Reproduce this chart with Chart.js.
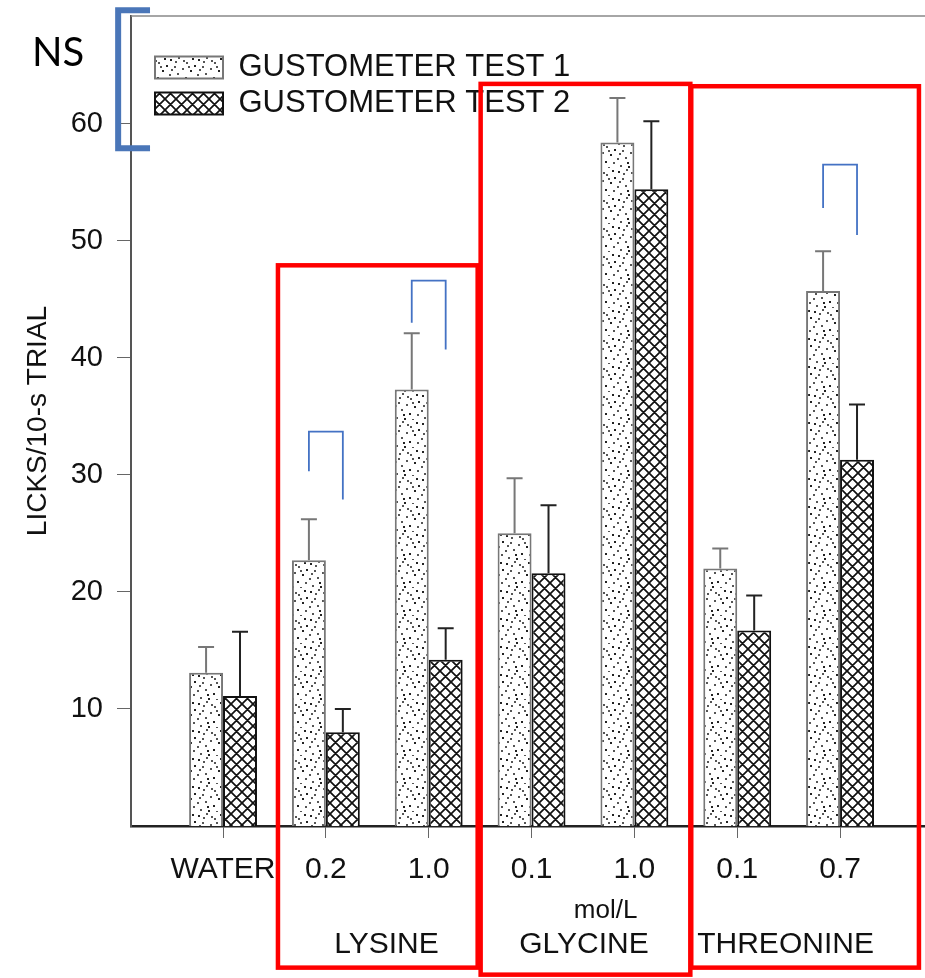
<!DOCTYPE html>
<html lang="en">
<head>
    <meta charset="UTF-8">
    <title>Licks per 10-s trial, gustometer tests 1 and 2</title>
    <script src="https://cdn.jsdelivr.net/npm/chart.js"></script>
    <style>
        html, body { margin: 0; padding: 0; background: #fff; }
        #wrap { width: 925px; height: 978px; }
    </style>
</head>
<body>
<div id="wrap"><canvas id="licksChart"></canvas></div>

<script>
    // values
    var categories = ['WATER', '0.2', '1.0', '0.1', '1.0', '0.1', '0.7'];
    var seriesNames = ['GUSTOMETER TEST 1', 'GUSTOMETER TEST 2'];
    var test1 = [13.1, 22.7, 37.3, 25.0, 58.4, 22.0, 45.7];
    var test1Err = [2.2, 3.5, 4.8, 4.7, 3.8, 1.7, 3.4];
    var test2 = [11.1, 8.0, 14.2, 21.6, 54.4, 16.7, 31.3];
    var test2Err = [5.5, 2.0, 2.7, 5.8, 5.8, 3.0, 4.7];
    var yTicks = [10, 20, 30, 40, 50, 60];
    var groups = ['LYSINE', 'GLYCINE', 'THREONINE'];
    var unitLabel = 'mol/L';

    var FONT = "'Liberation Sans', Arial, sans-serif";

    // stippled fill for test 1
    function stipple() {
        var c = document.createElement('canvas');
        c.width = 28; c.height = 28;
        var g = c.getContext('2d');
        g.fillStyle = '#fff';
        g.fillRect(0, 0, 28, 28);
        var dots = [[2, 3], [10, 1], [18, 6], [24, 2], [6, 10], [14, 12], [22, 14], [1, 18],
                    [9, 17], [17, 21], [25, 22], [4, 25], [12, 26], [20, 27], [15, 4], [26, 9],
                    [7, 5], [20, 10], [11, 22], [3, 13]];
        dots.forEach(function (d, i) {
            g.fillStyle = i % 3 === 0 ? '#222' : '#555';
            g.fillRect(d[0], d[1], 2, 2);
        });
        return g.createPattern(c, 'repeat');
    }

    // cross hatch fill for test 2
    function crosshatch() {
        var s = 11;
        var c = document.createElement('canvas');
        c.width = s; c.height = s;
        var g = c.getContext('2d');
        g.fillStyle = '#fff';
        g.fillRect(0, 0, s, s);
        g.strokeStyle = '#111';
        g.lineWidth = 1.7;
        g.beginPath();
        for (var k = -1; k <= 1; k++) {
            g.moveTo(k * s - 2, -2); g.lineTo(k * s + s + 2, s + 2);
            g.moveTo(k * s + s + 2, -2); g.lineTo(k * s - 2, s + 2);
        }
        g.stroke();
        return g.createPattern(c, 'repeat');
    }

    // legend drawn inside the plot, without taking layout space
    var legendInside = {
        id: 'legendInside',
        beforeInit: function (chart) {
            var lg = chart.legend, fit = lg.fit;
            lg.fit = function () { fit.call(this); this.height = 0; };
        },
        afterLayout: function (chart) {
            var lg = chart.legend;
            lg.left = 150; lg.right = 600;
            lg.top = 47; lg.bottom = 120;
        }
    };

    // upper error bars
    var errorBars = {
        id: 'errorBars',
        afterDatasetsDraw: function (chart) {
            var ctx = chart.ctx, y = chart.scales.y;
            var vals = [test1, test2], errs = [test1Err, test2Err], cols = ['#777', '#222'];
            ctx.save();
            chart.data.datasets.forEach(function (ds, di) {
                chart.getDatasetMeta(di).data.forEach(function (bar, i) {
                    var top = y.getPixelForValue(vals[di][i] + errs[di][i]);
                    ctx.strokeStyle = cols[di];
                    ctx.lineWidth = 2;
                    ctx.beginPath();
                    ctx.moveTo(bar.x, bar.y);
                    ctx.lineTo(bar.x, top);
                    ctx.moveTo(bar.x - 8, top);
                    ctx.lineTo(bar.x + 8, top);
                    ctx.stroke();
                });
            });
            ctx.restore();
        }
    };

    // frame top, group names and the added markings (boxes, brackets, NS)
    var notes = {
        id: 'notes',
        afterDraw: function (chart) {
            var ctx = chart.ctx, x = chart.scales.x, y = chart.scales.y, a = chart.chartArea;
            ctx.save();

            // top frame line
            ctx.strokeStyle = '#888';
            ctx.lineWidth = 1.5;
            ctx.beginPath();
            ctx.moveTo(a.left, a.top);
            ctx.lineTo(a.right, a.top);
            ctx.stroke();

            // unit and group names under the axis
            ctx.fillStyle = '#111';
            ctx.textAlign = 'center';
            ctx.textBaseline = 'middle';
            ctx.font = '26px ' + FONT;
            ctx.fillText(unitLabel, x.getPixelForValue(3.72), 911);
            ctx.font = '30px ' + FONT;
            var groupAt = [1.59, 3.51, 5.47];
            groups.forEach(function (g, i) {
                ctx.fillText(g, x.getPixelForValue(groupAt[i]), 945);
            });

            // significance brackets (blue)
            var t1 = chart.getDatasetMeta(0).data, t2 = chart.getDatasetMeta(1).data;
            var brackets = [
                { cat: 1, left: 30.3, top: 33.7, right: 27.9 },
                { cat: 2, left: 43.0, top: 46.6, right: 40.7 },
                { cat: 6, left: 52.8, top: 56.5, right: 50.5 }
            ];
            ctx.strokeStyle = '#4472c4';
            ctx.lineWidth = 1.8;
            brackets.forEach(function (b) {
                var xl = t1[b.cat].x, xr = t2[b.cat].x;
                ctx.beginPath();
                ctx.moveTo(xl, y.getPixelForValue(b.left));
                ctx.lineTo(xl, y.getPixelForValue(b.top));
                ctx.lineTo(xr, y.getPixelForValue(b.top));
                ctx.lineTo(xr, y.getPixelForValue(b.right));
                ctx.stroke();
            });

            // NS bracket at the top left
            ctx.strokeStyle = '#4a76b8';
            ctx.lineWidth = 6;
            ctx.beginPath();
            ctx.moveTo(x.getPixelForValue(-0.71), y.getPixelForValue(69.7));
            ctx.lineTo(x.getPixelForValue(-1.02), y.getPixelForValue(69.7));
            ctx.lineTo(x.getPixelForValue(-1.02), y.getPixelForValue(57.9));
            ctx.lineTo(x.getPixelForValue(-0.71), y.getPixelForValue(57.9));
            ctx.stroke();
            ctx.fillStyle = '#000';
            ctx.textAlign = 'left';
            ctx.textBaseline = 'alphabetic';
            ctx.font = "40px Lato, 'Open Sans', sans-serif";
            ctx.fillText('NS', 32, 66);

            // red boxes around the amino acid groups
            var boxes = [
                { from: 0.534, to: 2.476, top: 47.9, bottom: -12.1 },
                { from: 2.505, to: 4.544, top: 63.4, bottom: -12.7 },
                { from: 4.553, to: 6.767, top: 63.2, bottom: -12.1 }
            ];
            ctx.strokeStyle = '#ff0000';
            ctx.lineWidth = 4.5;
            boxes.forEach(function (b) {
                var l = x.getPixelForValue(b.from), r = x.getPixelForValue(b.to);
                var t = y.getPixelForValue(b.top), btm = y.getPixelForValue(b.bottom);
                ctx.strokeRect(l, t, r - l, btm - t);
            });
            ctx.restore();
        }
    };

    var ctx = document.getElementById('licksChart').getContext('2d');

    var licksChart = new Chart(ctx, {
        type: 'bar',
        data: {
            datasets: [{
                label: seriesNames[0],
                data: test1.map(function (v, i) { return { x: i, y: v }; }),
                backgroundColor: stipple(),
                borderColor: '#777',
                borderWidth: 2,
                barPercentage: 1.0,
                categoryPercentage: 0.66
            }, {
                label: seriesNames[1],
                data: test2.map(function (v, i) { return { x: i, y: v }; }),
                backgroundColor: crosshatch(),
                borderColor: '#111',
                borderWidth: 2,
                barPercentage: 1.0,
                categoryPercentage: 0.66
            }]
        },
        options: {
            responsive: true,
            maintainAspectRatio: false,
            animation: false,
            layout: { padding: { top: 16, right: 0, bottom: 76, left: 0 } },
            scales: {
                x: {
                    type: 'linear',
                    min: -0.895,
                    max: 6.826,
                    offset: false,
                    afterBuildTicks: function (s) {
                        s.ticks = categories.map(function (c, i) { return { value: i }; });
                    },
                    ticks: {
                        callback: function (v) { return categories[v]; },
                        font: { family: FONT, size: 30 },
                        color: '#111',
                        padding: 14,
                        maxRotation: 0,
                        autoSkip: false
                    },
                    grid: { display: true, drawOnChartArea: false, drawTicks: true, tickLength: 12, color: '#666', offset: false },
                    border: { display: true, color: '#222', width: 2.5, dash: [14, 4] }
                },
                y: {
                    min: 0,
                    max: 69.2,
                    afterBuildTicks: function (s) {
                        s.ticks = yTicks.map(function (v) { return { value: v }; });
                    },
                    afterFit: function (s) {
                        s.width = 131;
                        s.paddingTop = 0;
                        s.paddingBottom = 0;
                    },
                    ticks: {
                        font: { family: FONT, size: 29 },
                        color: '#111',
                        padding: 14
                    },
                    grid: { display: true, drawOnChartArea: false, drawTicks: true, tickLength: 14, color: '#666' },
                    border: { display: true, color: '#555', width: 2 },
                    title: {
                        display: true,
                        text: 'LICKS/10-s TRIAL',
                        font: { family: FONT, size: 28 },
                        color: '#111',
                        padding: { top: 21, bottom: 0 }
                    }
                }
            },
            plugins: {
                legend: {
                    display: true,
                    position: 'top',
                    align: 'start',
                    labels: {
                        boxWidth: 68,
                        boxHeight: 22,
                        padding: 5,
                        color: '#111',
                        font: { family: FONT, size: 31 }
                    }
                },
                tooltip: { enabled: false }
            }
        },
        plugins: [legendInside, errorBars, notes]
    });
</script>
</body>
</html>
